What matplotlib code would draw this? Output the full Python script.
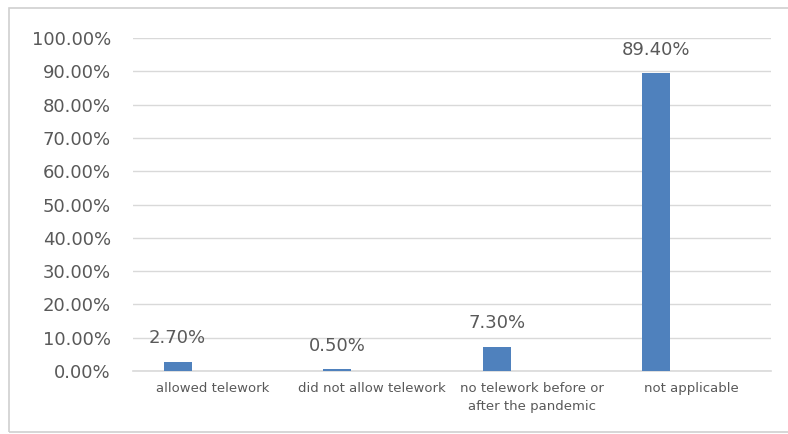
import matplotlib.pyplot as plt
from matplotlib.patches import Rectangle
from matplotlib.ticker import FuncFormatter
import numpy as np

# Telework answers (share of respondents, %)
categorias = ['allowed telework', 'did not allow telework',
              'no telework before or\nafter the pandemic', 'not applicable']
valores = [2.70, 0.50, 7.30, 89.40]
rotulos = ['2.70%', '0.50%', '7.30%', '89.40%']

azul = '#4f81bd'
cinza_txt = '#595959'
cinza_grade = '#d9d9d9'

fig = plt.figure(figsize=(7.88, 4.34), dpi=100)
ax = fig.add_axes([133 / 788, 63 / 434, 638 / 788, 333 / 434])

# moldura do grafico (esquerda, topo e base; a direita fica fora da imagem)
fig.patches.append(Rectangle((9 / 788, 2 / 434), 1.05, 424 / 434,
                             transform=fig.transFigure, fill=False,
                             edgecolor='#d0d0d0', linewidth=1.2))

x = np.arange(len(categorias))
desloc = -0.22
larg = 0.175
ax.bar(x + desloc, valores, width=larg, color=azul, zorder=3)

for xi, v, r in zip(x, valores, rotulos):
    ax.annotate(r, (xi + desloc, v), xytext=(0, 17), textcoords='offset points',
                ha='center', va='center', fontsize=13, color=cinza_txt)

ax.set_xlim(-0.5, 3.5)
ax.set_ylim(0, 100)
ax.set_yticks(np.arange(0, 101, 10))
ax.yaxis.set_major_formatter(FuncFormatter(lambda v, p: f'{v:.2f}%'))
ax.set_xticks(x)
ax.set_xticklabels(categorias, fontsize=9.5, color=cinza_txt, linespacing=1.5)
ax.tick_params(axis='y', labelsize=13, labelcolor=cinza_txt, length=0, pad=16)
ax.tick_params(axis='x', length=0, pad=8)

ax.grid(axis='y', color=cinza_grade, linewidth=1, zorder=0)
ax.axhline(0, color=cinza_grade, linewidth=1.2, zorder=2, clip_on=False)
for s in ax.spines.values():
    s.set_visible(False)

fig.savefig('out.png', dpi=100)
